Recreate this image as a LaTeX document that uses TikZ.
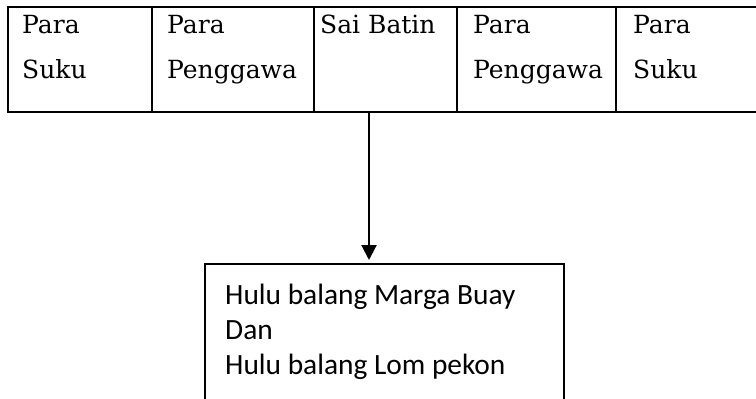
\documentclass[tikz,border=0pt]{standalone}
\usepackage{fontspec}
\setmainfont{DejaVu Serif}
\newfontfamily\calfont{Carlito}
\usetikzlibrary{arrows.meta}
\begin{document}
\begin{tikzpicture}[x=1pt,y=-1pt,
  cell/.style={draw=black, line width=2.2pt, minimum height=104.5pt, inner sep=0pt, anchor=north west},
  celltext/.style={anchor=north west, inner sep=0pt, align=left, font=\fontsize{25}{45}\selectfont},
  hbox/.style={draw=black, line width=2.2pt, minimum width=359pt, minimum height=150pt, inner sep=0pt, anchor=north west},
  hbtext/.style={anchor=north west, inner sep=0pt, align=left, font=\calfont\fontsize{29.4}{35}\selectfont},
  conn/.style={line width=2.2pt, -{Triangle[length=15pt,width=15pt]}}
]
\useasboundingbox (0,0) rectangle (756,399);
\clip (0,0) rectangle (756,399);
\fill[white] (0,0) rectangle (756,399);
% table cells
\node[cell, minimum width=144pt] (c1) at (7,6) {};
\node[cell, minimum width=161.5pt] (c2) at (151,6) {};
\node[cell, minimum width=143.5pt] (c3) at (312.5,6) {};
\node[cell, minimum width=159pt] (c4) at (456,6) {};
\node[cell, minimum width=160pt] (c5) at (615,6) {};
% cell texts
\node[celltext] (t1) at (22,15) {Para\\Suku};
\node[celltext] (t2) at (167,15) {Para\\Penggawa};
\node[celltext] (t3) at (320,15) {Sai Batin};
\node[celltext] (t4) at (473,15) {Para\\Penggawa};
\node[celltext] (t5) at (633,15) {Para\\Suku};
% bottom box
\node[hbox] (hb) at (204,263) {};
\node[hbtext] (hbt) at (225,284) {Hulu balang Marga Buay\\Dan\\Hulu balang Lom pekon};
% connector
\coordinate (arr) at (369,0);
\draw[conn, shorten >=3pt] (arr |- c3.south) -- (arr |- hb.north);
\end{tikzpicture}
\end{document}
